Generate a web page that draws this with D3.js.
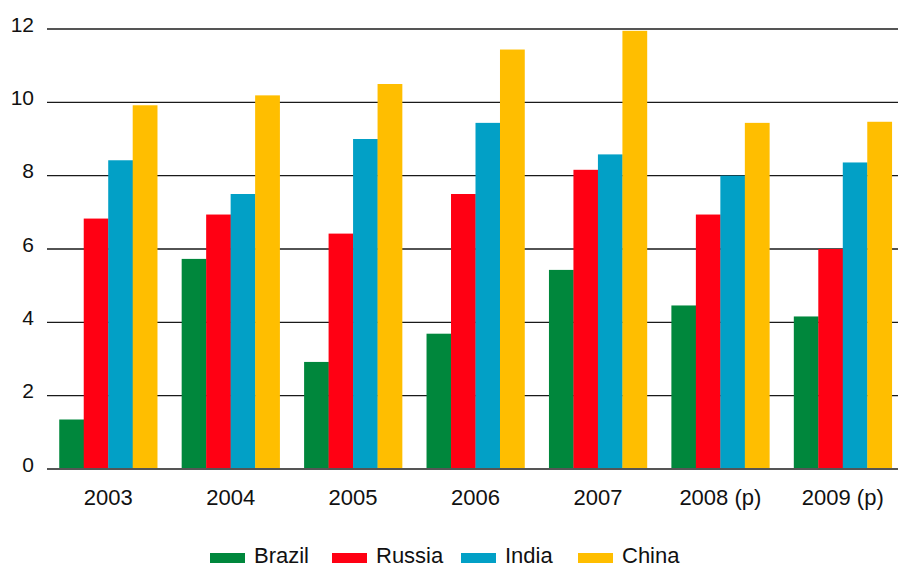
<!DOCTYPE html>
<html>
<head>
<meta charset="utf-8">
<script src="https://cdn.jsdelivr.net/npm/d3@7"></script>
<style>
  html, body { margin: 0; padding: 0; background: #fff; }
  svg { display: block; font-family: "Liberation Sans", Arial, Helvetica, sans-serif; }
</style>
</head>
<body>
<svg id="chart" width="898" height="568"></svg>
<script>
// ---- data ----
const years = ["2003", "2004", "2005", "2006", "2007", "2008 (p)", "2009 (p)"];
const seriesNames = ["Brazil", "Russia", "India", "China"];
const brazil = [1.35, 5.73, 2.92, 3.69, 5.43, 4.46, 4.16];
const russia = [6.83, 6.94, 6.42, 7.5, 8.16, 6.94, 6.0];
const india  = [8.42, 7.5, 9.0, 9.44, 8.58, 8.0, 8.36];
const china  = [9.92, 10.19, 10.5, 11.44, 11.95, 9.44, 9.47];
const yTicks = [0, 2, 4, 6, 8, 10, 12];
const colors = ["#00873c", "#ff0013", "#02a0c6", "#ffbe00"];

const seriesValues = [brazil, russia, india, china];

// ---- layout ----
const svg = d3.select("#chart");
const plotLeft = 47, plotRight = 904, yTop = 29, yBottom = 469;

const x0 = d3.scaleBand().domain(years).range([plotLeft, plotRight])
  .paddingInner(0.2).paddingOuter(0.1);
const x1 = d3.scaleBand().domain(seriesNames).range([0, x0.bandwidth()]).padding(0);
const y = d3.scaleLinear().domain([0, 12]).range([yBottom, yTop]);

// gridlines
const grid = svg.append("g");
grid.selectAll("line").data(yTicks).join("line")
  .attr("x1", plotLeft).attr("x2", 898)
  .attr("y1", d => y(d)).attr("y2", d => y(d))
  .attr("stroke", d => (d === 12 || d === 0) ? "#555" : "#1a1a1a")
  .attr("stroke-width", d => (d === 12 || d === 0) ? 2 : 1.4);

// y tick labels
const yAxis = d3.axisLeft(y).tickValues(yTicks).tickSize(0).tickPadding(0);
const yg = svg.append("g").attr("transform", "translate(34,0)").call(yAxis);
yg.select(".domain").remove();
yg.selectAll("text")
  .attr("font-size", 21).attr("fill", "#111")
  .attr("font-family", "'Liberation Sans', Arial, sans-serif")
  .attr("dy", "0.1em");

// bars
const groups = svg.append("g").selectAll("g").data(years).join("g")
  .attr("transform", d => `translate(${x0(d)},0)`);
groups.selectAll("rect")
  .data((d, i) => seriesNames.map((s, j) => ({ s, v: seriesValues[j][i], c: colors[j] })))
  .join("rect")
  .attr("x", d => x1(d.s))
  .attr("width", x1.bandwidth() + 0.3)
  .attr("y", d => y(d.v))
  .attr("height", d => y(0) - y(d.v))
  .attr("fill", d => d.c);

// redraw baseline on top
svg.append("line")
  .attr("x1", plotLeft).attr("x2", 898)
  .attr("y1", y(0)).attr("y2", y(0))
  .attr("stroke", "#555").attr("stroke-width", 2);

// x axis labels
const xAxis = d3.axisBottom(x0).tickSize(0).tickPadding(0);
const xg = svg.append("g").attr("transform", "translate(0,488)").call(xAxis);
xg.select(".domain").remove();
xg.selectAll("text")
  .attr("font-size", 22).attr("fill", "#111")
  .attr("font-family", "'Liberation Sans', Arial, sans-serif")
  .attr("dy", "0.75em");

// legend
const legendX = [210, 332, 461, 578];
const legend = svg.append("g").selectAll("g").data(seriesNames).join("g")
  .attr("transform", (d, i) => `translate(${legendX[i]},0)`);
legend.append("rect")
  .attr("x", 0).attr("y", 553).attr("width", 35).attr("height", 10)
  .attr("fill", (d, i) => colors[i]);
legend.append("text")
  .attr("x", 44).attr("y", 563)
  .attr("font-size", 22).attr("fill", "#111")
  .text(d => d);
</script>
</body>
</html>
